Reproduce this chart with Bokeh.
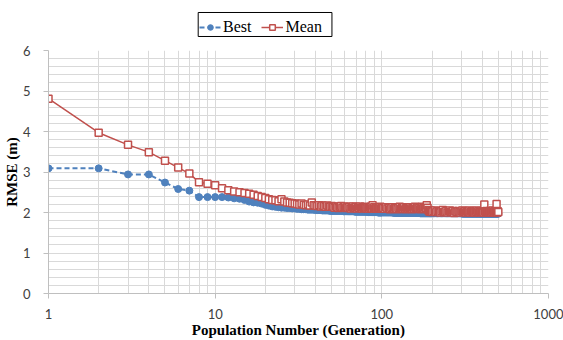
from bokeh.plotting import figure
from bokeh.layouts import column
from bokeh.models import (Range1d, FixedTicker, Legend, LegendItem, PrintfTickFormatter)
from bokeh.embed import file_html
from bokeh.resources import INLINE

# Generations at which the best / mean RMSE were recorded
generations = (list(range(1, 101))
               + list(range(102, 201, 2))
               + list(range(204, 501, 4)))

best_rmse = [
    3.09, 3.09, 2.94, 2.94, 2.74, 2.58, 2.54, 2.38, 2.38, 2.38,
    2.38, 2.37, 2.35, 2.34, 2.31, 2.27, 2.25, 2.24, 2.22, 2.19,
    2.17, 2.15, 2.14, 2.13, 2.12, 2.12, 2.11, 2.11, 2.10, 2.10,
    2.09, 2.09, 2.08, 2.08, 2.08, 2.07, 2.07, 2.07, 2.07, 2.06,
    2.06, 2.06, 2.06, 2.05, 2.05, 2.05, 2.05, 2.05, 2.04, 2.04,
    # 51 .. 100
    2.04, 2.04, 2.04, 2.04, 2.04, 2.04, 2.04, 2.04, 2.03, 2.03,
    2.03, 2.03, 2.03, 2.03, 2.03, 2.03, 2.03, 2.03, 2.02, 2.02,
    2.02, 2.02, 2.02, 2.02, 2.02, 2.02, 2.02, 2.02, 2.02, 2.02,
    2.02, 2.02, 2.01, 2.01, 2.01, 2.01, 2.01, 2.01, 2.01, 2.01,
    2.01, 2.01, 2.01, 2.01, 2.00, 2.00, 2.00, 2.00, 2.00, 2.00,
    # 102 .. 200
    2.00, 2.00, 2.00, 2.00, 2.00, 2.00, 2.00, 2.00, 1.99, 1.99,
    1.99, 1.99, 1.99, 1.99, 1.99, 1.99, 1.99, 1.99, 1.99, 1.99,
    1.99, 1.99, 1.99, 1.99, 1.99, 1.99, 1.99, 1.99, 1.99, 1.99,
    1.99, 1.99, 1.99, 1.99, 1.98, 1.98, 1.98, 1.98, 1.98, 1.98,
    1.98, 1.98, 1.98, 1.98, 1.98, 1.98, 1.98, 1.98, 1.98, 1.98,
    # 204 .. 500
    1.98, 1.98, 1.98, 1.98, 1.98, 1.98, 1.98, 1.98, 1.98, 1.98,
    1.98, 1.98, 1.98, 1.98, 1.98, 1.98, 1.98, 1.98, 1.98, 1.98,
    1.98, 1.98, 1.98, 1.98, 1.98, 1.97, 1.97, 1.97, 1.97, 1.97,
    1.97, 1.97, 1.97, 1.97, 1.97, 1.97, 1.97, 1.97, 1.97, 1.97,
    1.97, 1.97, 1.97, 1.97, 1.97, 1.97, 1.97, 1.97, 1.97, 1.97,
    1.97, 1.97, 1.97, 1.97, 1.97, 1.97, 1.97, 1.97, 1.97, 1.97,
    1.97, 1.97, 1.97, 1.97, 1.97, 1.97, 1.97, 1.97, 1.97, 1.97,
    1.97, 1.97, 1.97, 1.97, 1.97,
]

mean_rmse = [
    4.81, 3.97, 3.67, 3.49, 3.28, 3.11, 2.96, 2.75, 2.71, 2.67,
    2.60, 2.55, 2.52, 2.50, 2.48, 2.46, 2.44, 2.41, 2.38, 2.36,
    2.33, 2.31, 2.30, 2.28, 2.33, 2.27, 2.25, 2.24, 2.23, 2.22,
    2.21, 2.20, 2.22, 2.19, 2.18, 2.20, 2.17, 2.25, 2.18, 2.17,
    2.16, 2.18, 2.15, 2.17, 2.16, 2.14, 2.17, 2.15, 2.14, 2.16,
    # 51 .. 100
    2.14, 2.12, 2.15, 2.13, 2.11, 2.14, 2.16, 2.12, 2.13, 2.15,
    2.11, 2.13, 2.12, 2.14, 2.10, 2.13, 2.15, 2.11, 2.12, 2.14,
    2.10, 2.13, 2.11, 2.15, 2.12, 2.10, 2.13, 2.11, 2.14, 2.12,
    2.10, 2.13, 2.11, 2.09, 2.12, 2.14, 2.10, 2.18, 2.11, 2.13,
    2.09, 2.12, 2.10, 2.13, 2.11, 2.09, 2.12, 2.14, 2.10, 2.12,
    # 102 .. 200
    2.11, 2.09, 2.13, 2.10, 2.12, 2.08, 2.11, 2.13, 2.09, 2.12,
    2.10, 2.08, 2.12, 2.14, 2.09, 2.11, 2.10, 2.13, 2.08, 2.11,
    2.12, 2.09, 2.11, 2.13, 2.10, 2.08, 2.12, 2.10, 2.14, 2.09,
    2.11, 2.13, 2.10, 2.12, 2.08, 2.11, 2.14, 2.10, 2.12, 2.09,
    2.13, 2.11, 2.18, 2.12, 2.06, 2.04, 2.02, 2.05, 2.03, 2.01,
    # 204 .. 500
    2.03, 2.05, 2.01, 2.04, 2.02, 2.00, 2.03, 2.06, 2.01, 2.02,
    2.04, 2.00, 2.03, 2.05, 2.01, 2.02, 2.04, 1.99, 2.03, 2.02,
    2.01, 2.04, 2.02, 2.00, 2.03, 2.05, 2.01, 2.02, 2.04, 2.00,
    2.03, 2.01, 2.02, 2.05, 2.00, 2.03, 2.02, 2.04, 2.01, 2.00,
    2.03, 2.02, 2.05, 2.01, 2.03, 2.00, 2.02, 2.04, 2.01, 2.03,
    2.02, 2.00, 2.20, 2.03, 2.01, 2.04, 2.02, 2.00, 2.03, 2.01,
    2.04, 2.02, 2.00, 2.03, 2.01, 2.05, 2.02, 2.00, 2.03, 2.01,
    2.02, 2.21, 2.00, 2.03, 2.01,
]

series_names = ["Best", "Mean"]
x_ticks = [1, 10, 100, 1000]
y_ticks = [0, 1, 2, 3, 4, 5, 6]

BLUE = "#4F81BD"
RED = "#C0504D"
GRID = "#d9d9d9"
SERIF = "Liberation Serif"
SANS = "Lato"

best_line_style = dict(line_color=BLUE, line_width=2, line_dash="5 3")
best_mark_style = dict(marker="circle", size=7, fill_color=BLUE, line_color=BLUE)
mean_line_style = dict(line_color=RED, line_width=1.5)
mean_mark_style = dict(marker="square", size=7, fill_color="white",
                       line_color=RED, line_width=1.5)

# ---- main chart ----
p = figure(width=563, height=298, x_axis_type="log",
           x_range=Range1d(1, 1000), y_range=Range1d(0, 6),
           output_backend="svg", toolbar_location=None,
           min_border_left=47, min_border_right=15,
           min_border_top=8, min_border_bottom=47)
p.outline_line_color = None
p.background_fill_color = "white"
p.border_fill_color = "white"

p.xaxis.ticker = FixedTicker(ticks=x_ticks,
                             minor_ticks=[m * 10 ** k for k in range(3) for m in range(2, 10)])
p.xaxis.formatter = PrintfTickFormatter(format="%d")
p.yaxis.ticker = FixedTicker(ticks=y_ticks,
                             minor_ticks=[i / 5 for i in range(31)])
for ax in (p.xaxis[0], p.yaxis[0]):
    ax.axis_line_color = "#bfbfbf"
    ax.major_tick_line_color = "#bfbfbf"
    ax.major_tick_in = 0
    ax.major_tick_out = 5
    ax.minor_tick_line_color = None
    ax.major_label_text_font = SANS
    ax.major_label_text_font_size = "13px"
    ax.major_label_text_color = "#404040"
    ax.axis_label_text_font = SERIF
    ax.axis_label_text_font_style = "bold"
    ax.axis_label_text_font_size = "15px"
    ax.axis_label_text_color = "black"

p.xaxis.axis_label = "Population Number (Generation)"
p.xaxis.major_label_standoff = 10
p.xaxis.axis_label_standoff = 0
p.yaxis.axis_label = "RMSE (m)"
p.yaxis.major_label_standoff = 13
p.yaxis.axis_label_standoff = 0

for g in (p.xgrid[0], p.ygrid[0]):
    g.grid_line_color = GRID
    g.grid_line_width = 1
    g.minor_grid_line_color = GRID
    g.minor_grid_line_width = 1

p.line(generations, best_rmse, **best_line_style)
p.scatter(generations, best_rmse, **best_mark_style)
p.line(generations, mean_rmse, **mean_line_style)
p.scatter(generations, mean_rmse, **mean_mark_style)

# ---- legend strip above the chart ----
# The strip's y range sits below the data, so its series renderers only feed the legend keys.
head = figure(width=563, height=42, x_range=Range1d(0, 1), y_range=Range1d(-2, -1),
              output_backend="svg", toolbar_location=None,
              x_axis_location=None, y_axis_location=None,
              min_border_left=47, min_border_right=15,
              min_border_top=0, min_border_bottom=0)
head.outline_line_color = None
head.xgrid.visible = False
head.ygrid.visible = False

# framed white box behind the legend entries (strip units: x 0..1 across, y -1 top .. -2 bottom)
head.quad(left=[0.2994], right=[0.5669], top=[-1.2857], bottom=[-1.8571],
          fill_color="white", line_color="black", line_width=1)

keys = [
    [head.line(generations, best_rmse, **best_line_style),
     head.scatter(generations, best_rmse, **best_mark_style)],
    [head.line(generations, mean_rmse, **mean_line_style),
     head.scatter(generations, mean_rmse, **mean_mark_style)],
]
legend = Legend(items=[LegendItem(label=n, renderers=r) for n, r in zip(series_names, keys)],
                orientation="horizontal", location=(151, 6),
                label_text_font=SERIF, label_text_font_size="16px",
                label_text_color="black",
                glyph_width=22, glyph_height=14, label_height=16,
                label_standoff=2, spacing=10, padding=4, margin=0,
                border_line_color=None,
                background_fill_alpha=0.0)
head.add_layout(legend, "center")

open("out.html", "w").write(file_html(column(head, p), INLINE))
